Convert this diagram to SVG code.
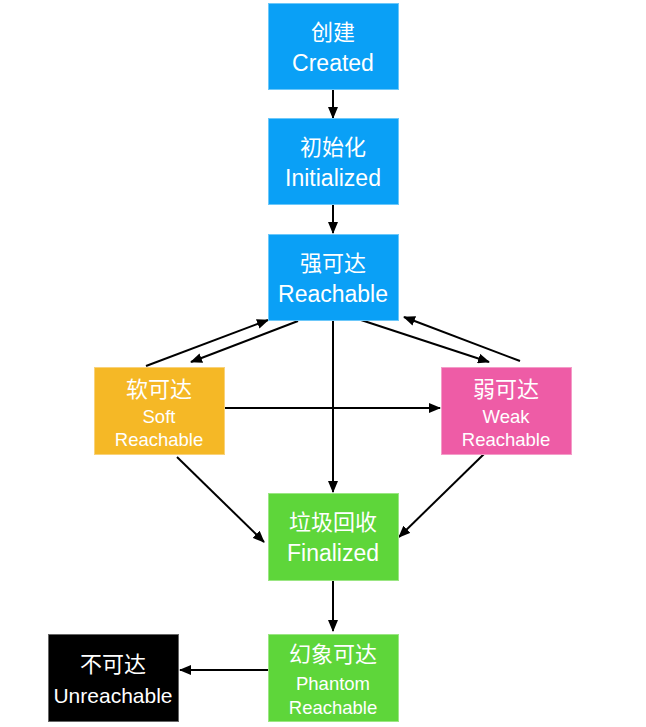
<svg xmlns="http://www.w3.org/2000/svg" width="646" height="727" viewBox="0 0 646 727">
  <defs>
    <marker id="arrow" markerUnits="userSpaceOnUse" markerWidth="12" markerHeight="10" refX="11" refY="5" orient="auto">
      <path d="M0,0 L12,5 L0,10 Z" fill="#000"/>
    </marker>
    <style>
      .box { stroke-width: 1; }
      .blue { fill: #0AA0F6; stroke: #6CC8FA; }
      .yellow { fill: #F5B826; stroke: #F9D27A; }
      .pink { fill: #EE5CA6; stroke: #F49CC8; }
      .green { fill: #5ED63A; stroke: #9BE683; }
      .black { fill: #000; stroke: #666; }
      text { fill: #fff; text-anchor: middle; font-family: "Liberation Sans", "Noto Sans CJK SC", sans-serif; }
      .zh { font-size: 22px; }
      .en { font-size: 23px; }
      .sm { font-size: 18.5px; }
      .edge { stroke: #000; stroke-width: 2; fill: none; marker-end: url(#arrow); }
    </style>
  </defs>

  <rect width="646" height="727" fill="#fff"/>

  <g id="connectors">
    <line class="edge" x1="333" y1="89" x2="333" y2="118"/>
    <line class="edge" x1="333" y1="204" x2="333" y2="233"/>
    <line class="edge" x1="333" y1="320" x2="333" y2="492"/>
    <line class="edge" x1="298" y1="321" x2="191" y2="362"/>
    <line class="edge" x1="146" y1="366" x2="268" y2="320"/>
    <line class="edge" x1="361" y1="320" x2="489" y2="362"/>
    <line class="edge" x1="520" y1="361" x2="404" y2="317"/>
    <line class="edge" x1="224" y1="408" x2="440" y2="408"/>
    <line class="edge" x1="177" y1="457" x2="264" y2="542"/>
    <line class="edge" x1="484" y1="454" x2="399" y2="537"/>
    <line class="edge" x1="333" y1="581" x2="333" y2="631"/>
    <line class="edge" x1="268" y1="670" x2="180" y2="670"/>
  </g>

  <g id="created">
    <rect class="box blue" x="268.5" y="3.5" width="130" height="86"/>
    <text class="zh" x="333" y="40">创建</text>
    <text class="en" x="333" y="71">Created</text>
  </g>

  <g id="initialized">
    <rect class="box blue" x="268.5" y="118.5" width="130" height="86"/>
    <text class="zh" x="333" y="155">初始化</text>
    <text class="en" x="333" y="186">Initialized</text>
  </g>

  <g id="reachable">
    <rect class="box blue" x="268.5" y="234.5" width="130" height="86"/>
    <text class="zh" x="333" y="271">强可达</text>
    <text class="en" x="333" y="302">Reachable</text>
  </g>

  <g id="soft">
    <rect class="box yellow" x="94.5" y="367.5" width="130" height="87"/>
    <text class="zh" x="159" y="397">软可达</text>
    <text class="sm" x="159" y="423">Soft</text>
    <text class="sm" x="159" y="446">Reachable</text>
  </g>

  <g id="weak">
    <rect class="box pink" x="441.5" y="367.5" width="130" height="87"/>
    <text class="zh" x="506" y="397">弱可达</text>
    <text class="sm" x="506" y="423">Weak</text>
    <text class="sm" x="506" y="446">Reachable</text>
  </g>

  <g id="finalized">
    <rect class="box green" x="268.5" y="493.5" width="130" height="87"/>
    <text class="zh" x="333" y="530">垃圾回收</text>
    <text class="en" x="333" y="561">Finalized</text>
  </g>

  <g id="phantom">
    <rect class="box green" x="268.5" y="634.5" width="130" height="87"/>
    <text class="zh" x="333" y="662">幻象可达</text>
    <text class="sm" x="333" y="690">Phantom</text>
    <text class="sm" x="333" y="714">Reachable</text>
  </g>

  <g id="unreachable">
    <rect class="box black" x="48.5" y="634.5" width="130" height="87"/>
    <text class="zh" x="113" y="672">不可达</text>
    <text class="en" x="113" y="703" style="font-size:21px">Unreachable</text>
  </g>
</svg>
